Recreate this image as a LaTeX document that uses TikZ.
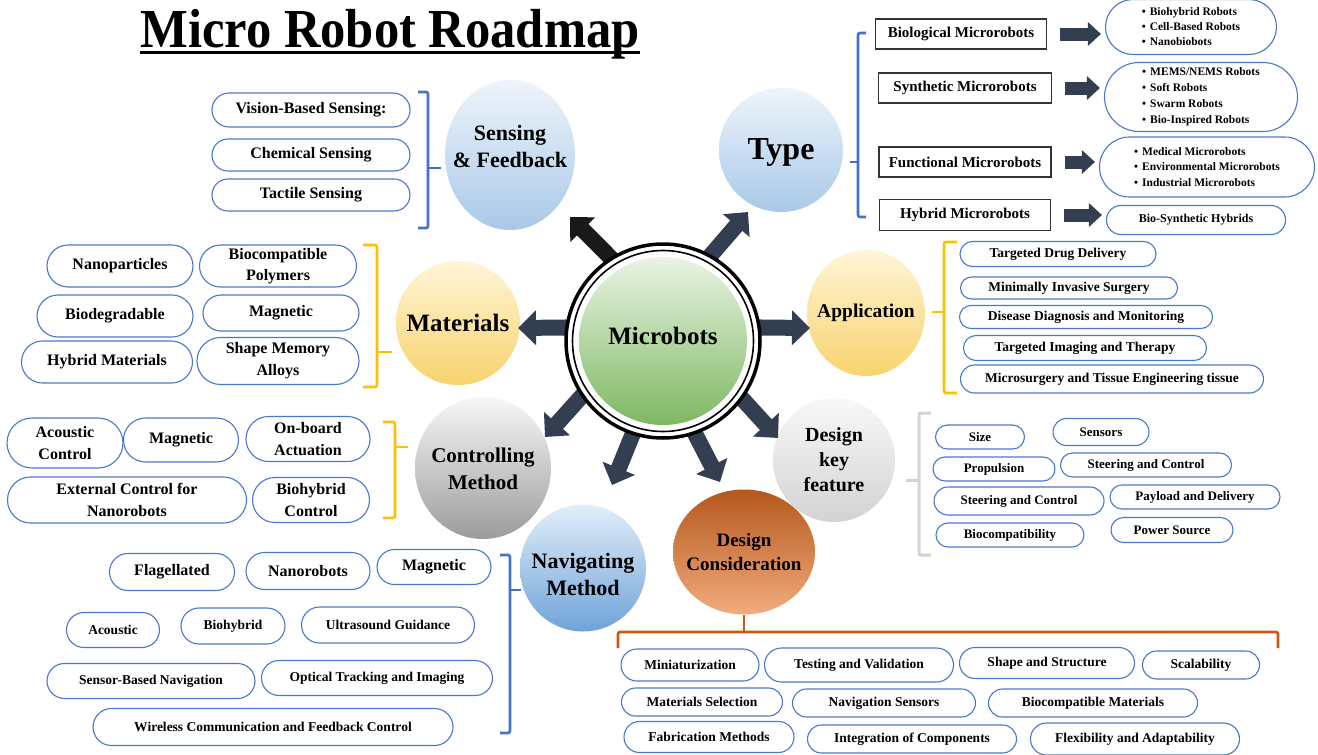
\documentclass[tikz,border=0pt]{standalone}
\usepackage{fontspec}
\setmainfont{Liberation Serif}
\usetikzlibrary{shapes.geometric,shapes.misc,arrows.meta}
\definecolor{pillblue}{HTML}{4A78C8}
\definecolor{navy}{HTML}{333F50}
\definecolor{braceblue}{HTML}{4472C4}
\definecolor{braceyel}{HTML}{FFC000}
\definecolor{bracegray}{HTML}{D3D3D3}
\definecolor{braceor}{HTML}{C55A11}
\definecolor{skyTop}{HTML}{EEF4FB}
\definecolor{skyBot}{HTML}{A9C9E8}
\definecolor{navTop}{HTML}{E2EEF9}
\definecolor{navBot}{HTML}{6FA3D9}
\definecolor{yelTop}{HTML}{FFF5D6}
\definecolor{yelBot}{HTML}{F8D36E}
\definecolor{grayTop}{HTML}{F7F7F7}
\definecolor{grayBot}{HTML}{9C9C9C}
\definecolor{lgTop}{HTML}{F8F8F8}
\definecolor{lgBot}{HTML}{D3D3D3}
\definecolor{orTop}{HTML}{B4581C}
\definecolor{orMid}{HTML}{EC7F36}
\definecolor{orBot}{HTML}{F2AC7E}
\definecolor{grTop}{HTML}{EAF4E4}
\definecolor{grBot}{HTML}{7EB862}
\newcommand\fsz[2]{\fontsize{#1}{#2}\selectfont\bfseries}
\begin{document}
\begin{tikzpicture}[x=1pt,y=-1pt,
  pill/.style={rounded rectangle, draw=pillblue, line width=1.1pt, fill=white, inner sep=0pt, align=center},
  bubble/.style={rounded rectangle, draw=pillblue, line width=1.1pt, fill=white, inner sep=0pt, align=left},
  tbox/.style={rectangle, draw=black!80, line width=1.1pt, fill=white, inner sep=0pt, font=\fsz{15}{18}},
  sat/.style={ellipse, inner sep=0pt},
  sattext/.style={inner sep=0pt, align=center},
  bigarr/.style={draw=navy, line width=16pt, -{Triangle[length=18pt,width=34pt]}, shorten <=-6pt},
  smallarr/.style={draw=navy, line width=13pt, -{Triangle[length=13pt,width=23pt]}, shorten <=13pt, shorten >=4pt},
  brace/.style={line width=2.6pt, rounded corners=2pt},
]
\useasboundingbox (0,0) rectangle (1318,755);
\fill[white] (0,0) rectangle (1318,755);

% title
\node[anchor=base, inner sep=0pt, font=\fsz{55}{60}] (title) at (390,47) {\scalebox{0.92}[1]{Micro Robot Roadmap}};
\draw[line width=3pt] ([yshift=-5pt]title.base west) -- ([yshift=-5pt]title.base east);

% satellites
\node[sat, minimum width=130pt, minimum height=150pt, top color=skyTop, bottom color=skyBot] (sens) at (510,155) {};
\node[sat, minimum width=124pt, minimum height=124pt, top color=skyTop, bottom color=skyBot] (type) at (781,150) {};
\node[sat, minimum width=124pt, minimum height=124pt, top color=yelTop, bottom color=yelBot] (mat) at (458,323) {};
\node[sat, minimum width=118pt, minimum height=126pt, top color=yelTop, bottom color=yelBot] (app) at (866,313) {};
\node[sat, minimum width=136pt, minimum height=142pt, top color=grayTop, bottom color=grayBot] (ctrl) at (483,468) {};
\node[sat, minimum width=122pt, minimum height=124pt, top color=lgTop, bottom color=lgBot] (dkf) at (834,460) {};
\node[sat, minimum width=126pt, minimum height=127pt, top color=navTop, bottom color=navBot] (nav) at (583,568) {};
\node[sat, minimum width=142pt, minimum height=125pt, top color=orTop, middle color=orMid, bottom color=orBot] (dcon) at (744,552) {};

\node[sattext, font=\fsz{22}{27}] (sens-t) at (510,146) {Sensing\\\& Feedback};
\node[sattext, font=\fsz{32}{36}] (type-t) at (781,152) {Type};
\node[sattext, font=\fsz{25}{28}] (mat-t) at (458,323) {Materials};
\node[sattext, font=\fsz{19.5}{23}] (app-t) at (866,313) {Application};
\node[sattext, font=\fsz{21}{27}] (ctrl-t) at (483,469) {Controlling\\Method};
\node[sattext, font=\fsz{20}{25}] (dkf-t) at (834,460) {Design\\key\\feature};
\node[sattext, font=\fsz{22}{27}] (nav-t) at (583,574) {Navigating\\Method};
\node[sattext, font=\fsz{19}{24}] (dcon-t) at (744,552) {Design\\Consideration};

% arrow tips
\coordinate (t1) at (570,217);
\coordinate (t2) at (748,212);
\coordinate (t3) at (518,328);
\coordinate (t4) at (810,328);
\coordinate (t5) at (545,437);
\coordinate (t6) at (778,438);
\coordinate (t7) at (612,485);
\coordinate (t8) at (720,482);

% center (placed first as coordinate reference)
\node[circle, minimum size=194pt, inner sep=0pt] (mb) at (663,341) {};
\draw[bigarr, draw=black!90] (mb.122) -- (t1);
\draw[bigarr] (mb.61) -- (t2);
\draw[bigarr] (mb.172) -- (t3);
\draw[bigarr] (mb.8) -- (t4);
\draw[bigarr] (mb.214) -- (t5);
\draw[bigarr] (mb.324) -- (t6);
\draw[bigarr] (mb.252) -- (t7);
\draw[bigarr] (mb.289) -- (t8);
\draw[line width=3.5pt, fill=white] (mb.center) circle[radius=97pt];
\draw[line width=1.6pt] (mb.center) circle[radius=90.5pt];
\node[circle, minimum size=168pt, inner sep=0pt, top color=grTop, bottom color=grBot] (mbin) at (663,341) {};
\node[sattext, font=\fsz{25}{28}] (mb-t) at (663,336) {Microbots};

% Sensing
\node[pill, minimum width=198pt, minimum height=34pt, font=\fsz{16}{19}] (s1) at (311,110) {Vision-Based Sensing:};
\node[pill, minimum width=198pt, minimum height=32pt, font=\fsz{16}{19}] (s2) at (311,155) {Chemical Sensing};
\node[pill, minimum width=198pt, minimum height=32pt, font=\fsz{16}{19}] (s3) at (311,195) {Tactile Sensing};
\draw[brace, braceblue] (418,92) -- (428,92) -- (428,228) -- (418,228);
\draw[brace, braceblue] (428,168) -- (441,168);

% Type
\node[tbox, minimum width=171pt, minimum height=30pt] (bio) at (961,34) {Biological Microrobots};
\node[tbox, minimum width=173pt, minimum height=30pt] (syn) at (965,88) {Synthetic Microrobots};
\node[tbox, minimum width=172pt, minimum height=30pt] (fun) at (965,162) {Functional Microrobots};
\node[tbox, minimum width=171pt, minimum height=31pt] (hyb) at (965,215) {Hybrid Microrobots};
\node[bubble, minimum width=171pt, minimum height=55pt, font=\fsz{11.5}{15}] (bub1) at (1191,27) {\textbullet\hspace{4pt}Biohybrid Robots\\\textbullet\hspace{4pt}Cell-Based Robots\\\textbullet\hspace{4pt}Nanobiobots};
\node[bubble, minimum width=193pt, minimum height=69pt, font=\fsz{11.5}{16}] (bub2) at (1201,97) {\textbullet\hspace{4pt}MEMS/NEMS Robots\\\textbullet\hspace{4pt}Soft Robots\\\textbullet\hspace{4pt}Swarm Robots\\\textbullet\hspace{4pt}Bio-Inspired Robots};
\node[bubble, minimum width=215pt, minimum height=60pt, font=\fsz{11.5}{15.5}] (bub3) at (1207,167) {\textbullet\hspace{4pt}Medical Microrobots\\\textbullet\hspace{4pt}Environmental Microrobots\\\textbullet\hspace{4pt}Industrial Microrobots};
\node[bubble, minimum width=179pt, minimum height=29pt, font=\fsz{12}{14}] (bub4) at (1196,220) {Bio-Synthetic Hybrids};
\draw[smallarr] (bio.east) -- (bio.east -| bub1.west);
\draw[smallarr] (syn.east) -- (syn.east -| bub2.west);
\draw[smallarr] (fun.east) -- (fun.east -| bub3.west);
\draw[smallarr] (hyb.east) -- (hyb.east -| bub4.west);
\draw[brace, braceblue] (866,33) -- (858,33) -- (858,217) -- (866,217);
\draw[brace, braceblue] (858,162) -- (850,162);

% Materials
\node[pill, minimum width=146pt, minimum height=42pt, font=\fsz{16}{21}] (m1) at (120,266) {Nanoparticles};
\node[pill, minimum width=157pt, minimum height=42pt, font=\fsz{16}{21}] (m2) at (278,266) {Biocompatible\\Polymers};
\node[pill, minimum width=156pt, minimum height=42pt, font=\fsz{16}{21}] (m3) at (115,316) {Biodegradable};
\node[pill, minimum width=156pt, minimum height=36pt, font=\fsz{16}{21}] (m4) at (281,313) {Magnetic};
\node[pill, minimum width=171pt, minimum height=42pt, font=\fsz{16}{21}] (m5) at (107,362) {Hybrid Materials};
\node[pill, minimum width=162pt, minimum height=47pt, font=\fsz{16}{22}] (m6) at (278,361) {Shape Memory\\Alloys};
\draw[brace, braceyel] (363,245) -- (377,245) -- (377,387) -- (363,387);
\draw[brace, braceyel] (377,352) -- (392,352);

% Application
\node[pill, minimum width=196pt, minimum height=25pt, font=\fsz{13.5}{16}] (a1) at (1058,254) {Targeted Drug Delivery};
\node[pill, minimum width=217pt, minimum height=22pt, font=\fsz{13.5}{16}] (a2) at (1069,288) {Minimally Invasive Surgery};
\node[pill, minimum width=253pt, minimum height=23pt, font=\fsz{13.5}{16}] (a3) at (1086,317) {Disease Diagnosis and Monitoring};
\node[pill, minimum width=243pt, minimum height=25pt, font=\fsz{13.5}{16}] (a4) at (1085,348) {Targeted Imaging and Therapy};
\node[pill, minimum width=303pt, minimum height=28pt, font=\fsz{13.5}{16}] (a5) at (1112,379) {Microsurgery and Tissue Engineering tissue};
\draw[brace, braceyel] (957,242) -- (944,242) -- (944,393) -- (957,393);
\draw[brace, braceyel] (944,312) -- (932,312);

% Controlling
\node[pill, minimum width=116pt, minimum height=50pt, font=\fsz{16}{22}] (c1) at (65,443) {Acoustic\\Control};
\node[pill, minimum width=115pt, minimum height=44pt, font=\fsz{16}{22}] (c2) at (181,440) {Magnetic};
\node[pill, minimum width=124pt, minimum height=45pt, font=\fsz{16}{22}] (c3) at (308,439) {On-board\\Actuation};
\node[pill, minimum width=239pt, minimum height=46pt, font=\fsz{16}{22}] (c4) at (127,500) {External Control for\\Nanorobots};
\node[pill, minimum width=117pt, minimum height=45pt, font=\fsz{16}{22}] (c5) at (311,500) {Biohybrid\\Control};
\draw[brace, braceyel] (383,422) -- (395,422) -- (395,518) -- (383,518);
\draw[brace, braceyel] (395,447) -- (408,447);

% Design key feature
\node[pill, minimum width=89pt, minimum height=24pt, font=\fsz{13}{15}] (k1) at (980,437) {Size};
\node[pill, minimum width=96pt, minimum height=27pt, font=\fsz{13}{15}] (k2) at (1101,432) {Sensors};
\node[pill, minimum width=122pt, minimum height=24pt, font=\fsz{13}{15}] (k3) at (994,469) {Propulsion};
\node[pill, minimum width=171pt, minimum height=24pt, font=\fsz{13}{15}] (k4) at (1146,465) {Steering and Control};
\node[pill, minimum width=170pt, minimum height=28pt, font=\fsz{13}{15}] (k5) at (1019,501) {Steering and Control};
\node[pill, minimum width=170pt, minimum height=24pt, font=\fsz{13}{15}] (k6) at (1195,497) {Payload and Delivery};
\node[pill, minimum width=148pt, minimum height=24pt, font=\fsz{13}{15}] (k7) at (1010,535) {Biocompatibility};
\node[pill, minimum width=122pt, minimum height=25pt, font=\fsz{13}{15}] (k8) at (1172,530) {Power Source};
\draw[brace, bracegray, line width=3pt] (931,413) -- (919,413) -- (919,555) -- (931,555);
\draw[brace, bracegray, line width=3pt] (919,480) -- (906,480);

% Navigating
\node[pill, minimum width=125pt, minimum height=37pt, font=\fsz{16}{19}] (n1) at (172,572) {Flagellated};
\node[pill, minimum width=124pt, minimum height=37pt, font=\fsz{16}{19}] (n2) at (308,571) {Nanorobots};
\node[pill, minimum width=114pt, minimum height=35pt, font=\fsz{16}{19}] (n3) at (434,567) {Magnetic};
\node[pill, minimum width=93pt, minimum height=35pt, font=\fsz{13.5}{16}] (n4) at (113,630) {Acoustic};
\node[pill, minimum width=104pt, minimum height=36pt, font=\fsz{13.5}{16}] (n5) at (233,626) {Biohybrid};
\node[pill, minimum width=173pt, minimum height=36pt, font=\fsz{13.5}{16}] (n6) at (388,625) {Ultrasound Guidance};
\node[pill, minimum width=208pt, minimum height=35pt, font=\fsz{13.5}{16}] (n7) at (151,681) {Sensor-Based Navigation};
\node[pill, minimum width=231pt, minimum height=35pt, font=\fsz{13.5}{16}] (n8) at (377,678) {Optical Tracking and Imaging};
\node[pill, minimum width=360pt, minimum height=37pt, font=\fsz{13.5}{16}] (n9) at (273,727) {Wireless Communication and Feedback Control};
\draw[brace, braceblue] (500,555) -- (510,555) -- (510,733) -- (500,733);
\draw[brace, braceblue] (510,590) -- (521,590);

% Design Consideration
\node[pill, minimum width=138pt, minimum height=32pt, font=\fsz{13.5}{16}] (d1) at (690,665) {Miniaturization};
\node[pill, minimum width=189pt, minimum height=34pt, font=\fsz{13.5}{16}] (d2) at (859,665) {Testing and Validation};
\node[pill, minimum width=175pt, minimum height=31pt, font=\fsz{13.5}{16}] (d3) at (1047,663) {Shape and Structure};
\node[pill, minimum width=117pt, minimum height=28pt, font=\fsz{13.5}{16}] (d4) at (1201,665) {Scalability};
\node[pill, minimum width=161pt, minimum height=28pt, font=\fsz{13.5}{16}] (d5) at (702,702) {Materials Selection};
\node[pill, minimum width=183pt, minimum height=28pt, font=\fsz{13.5}{16}] (d6) at (884,703) {Navigation Sensors};
\node[pill, minimum width=209pt, minimum height=28pt, font=\fsz{13.5}{16}] (d7) at (1093,703) {Biocompatible Materials};
\node[pill, minimum width=170pt, minimum height=31pt, font=\fsz{13.5}{16}] (d8) at (709,737) {Fabrication Methods};
\node[pill, minimum width=209pt, minimum height=28pt, font=\fsz{13.5}{16}] (d9) at (912,739) {Integration of Components};
\node[pill, minimum width=209pt, minimum height=32pt, font=\fsz{13.5}{16}] (d10) at (1135,739) {Flexibility and Adaptability};
\draw[brace, braceor] (618,648) -- (618,632) -- (1278,632) -- (1278,648);
\draw[brace, braceor] (dcon.south) -- (dcon.south |- 0,632);
\end{tikzpicture}
\end{document}
